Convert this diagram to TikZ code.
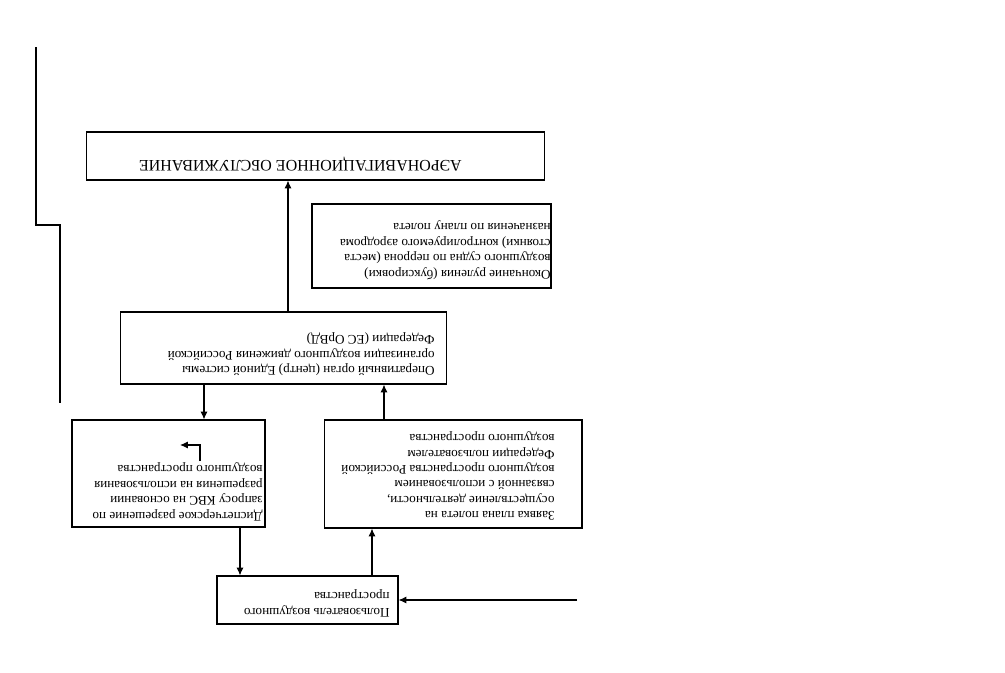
\documentclass[tikz,border=0pt]{standalone}
\usepackage{fontspec}
\setmainfont{Liberation Serif}
\usetikzlibrary{calc, arrows.meta}
\tikzset{
  box/.style={draw, inner sep=0pt, line width=0.6pt},
  txt/.style={rotate=180, anchor=north west, inner sep=0pt, align=left,
              font=\fontsize{7.5}{8.8}\selectfont},
  arr/.style={->, line width=0.6pt},
}

\begin{document}
\begin{tikzpicture}[x=0.02cm, y=-0.02cm, >={Latex[length=4.5pt, width=4pt]}]
  \useasboundingbox (0,0) rectangle (1005,673);
  % Boxes (the whole sheet is turned upside down)
  \node[box, minimum width=9.18cm, minimum height=0.96cm] (aero) at (315.5,156) {};
  \node[box, minimum width=4.78cm, minimum height=1.68cm] (taxi) at (431.5,246) {};
  \node[box, minimum width=6.54cm, minimum height=1.44cm] (organ) at (283.5,348) {};
  \node[box, minimum width=3.86cm, minimum height=2.14cm] (permit) at (168.5,473.5) {};
  \node[box, minimum width=5.16cm, minimum height=2.16cm] (plan) at (453,474) {};
  \node[box, minimum width=3.62cm, minimum height=0.96cm] (user) at (307.5,600) {};
  % Texts
  \node[txt, font=\fontsize{9.1}{10}\selectfont] (aerotxt) at (462,171)
    {АЭРОНАВИГАЦИОННОЕ ОБСЛУЖИВАНИЕ};
  \node[txt] (taxitxt) at (551,280)
    {Окончание руления (буксировки)\\ воздушного судна по перрона (места\\
     стоянки) контролируемого аэродрома\\ назначения по плану полета};
  \node[txt] (organtxt) at (435,376)
    {Оперативный орган (центр) Единой системы\\ организации воздушного движения Российской\\
     Федерации (ЕС ОрВД)};
  \node[txt] (permittxt) at (263,521)
    {Диспетчерское разрешение по\\ запросу КВС на основании\\
     разрешения на использования\\ воздушного пространства};
  \node[txt] (plantxt) at (555,521)
    {Заявка плана полета на\\ осуществление деятельности,\\ связанной с использованием\\
     воздушного пространства Российской\\ Федерации пользователем\\ воздушного пространства};
  \node[txt] (usertxt) at (390,617)
    {Пользователь воздушного\\ пространства};
  % Connectors
  \coordinate (src) at (577,600);
  \draw[arr] (src) -- (user.east);
  \draw[arr] ($(user.north)+(64.5,0)$) coordinate (a) -- (a |- plan.south);
  \draw[arr] ($(plan.north)+(-69,0)$) coordinate (b) -- (b |- organ.south);
  \draw[arr] ($(organ.south)+(-79.5,0)$) coordinate (c) -- (c |- permit.north);
  \draw[arr] ($(permit.south)+(71.5,0)$) coordinate (d) -- (d |- user.north);
  \draw[arr] ($(organ.north)+(4.5,0)$) coordinate (e) -- (e |- aero.south);
  \draw[arr] ($(permit)+(31.5,-12.5)$) |- ($(permit)+(11.5,-28.5)$);
  % Left margin line
  \coordinate (m1) at (36,47);
  \coordinate (m2) at (60,403);
  \draw[line width=0.6pt] (m1) |- (60,225) -- (m2);
\end{tikzpicture}
\end{document}
